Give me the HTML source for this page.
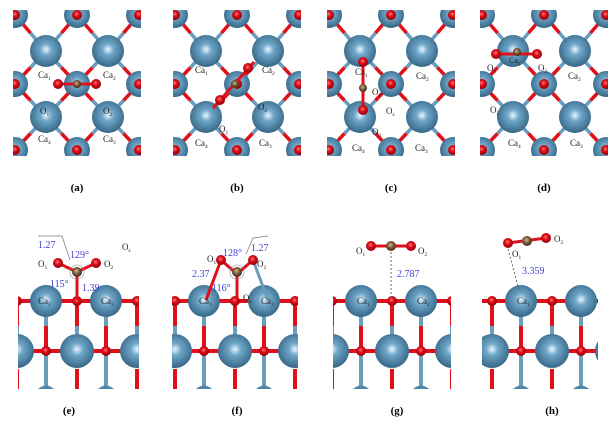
<!DOCTYPE html>
<html><head><meta charset="utf-8"><style>
body{margin:0;background:#fff;width:616px;height:426px;overflow:hidden}
svg text{font-family:"Liberation Serif",serif}
</style></head><body>
<svg id="s" width="616" height="426" xmlns="http://www.w3.org/2000/svg">
<defs>
<radialGradient id="ca" cx="0.5" cy="0.45" r="0.6"><stop offset="0" stop-color="#e8f6ff"/><stop offset="0.3" stop-color="#6fa6c8"/><stop offset="1" stop-color="#2e5f7e"/></radialGradient>
<radialGradient id="ox" cx="0.45" cy="0.4" r="0.6"><stop offset="0" stop-color="#ff8080"/><stop offset="0.4" stop-color="#e0101a"/><stop offset="1" stop-color="#900008"/></radialGradient>
<radialGradient id="cc" cx="0.45" cy="0.4" r="0.6"><stop offset="0" stop-color="#d8b890"/><stop offset="0.5" stop-color="#7a5a3a"/><stop offset="1" stop-color="#3e2a18"/></radialGradient>
</defs>
<g id="g"></g>
</svg>
<script>
(function(){
const g=document.getElementById('g');let h='';
const B='#6a9cbc',R='#e0101a';
function ln(x1,y1,x2,y2,c,w){h+=`<line x1="${x1}" y1="${y1}" x2="${x2}" y2="${y2}" stroke="${c}" stroke-width="${w}"/>`;}
function bond(x1,y1,x2,y2,w){const mx=(x1+x2)/2,my=(y1+y2)/2;ln(x1,y1,mx,my,B,w||3.5);ln(mx,my,x2,y2,R,w||3.5);}
function ci(x,y,r,f){h+=`<circle cx="${x}" cy="${y}" r="${r}" fill="url(#${f})"/>`;}
function tx(x,y,t,s,c,sub){h+=`<text x="${x}" y="${y}" font-size="${s}" fill="${c||'#222'}">${t}${sub?`<tspan font-size="${s*0.6}" dy="2">${sub}</tspan>`:''}</text>`;}
let cid=0;
function topPanel(x0){
 cid++;h+=`<clipPath id="c${cid}"><rect x="${x0}" y="10" width="128" height="146"/></clipPath><g clip-path="url(#c${cid})">`;
 const rows=[15,84,150],cols=[x0+2,x0+64,x0+126],car=[51,117],cac=[x0+33,x0+95];
 for(const cy of car)for(const cx of cac)for(const dy of [-1,1])for(const dx of [-1,1]){
  const ty=cy+dy*(cy==51&&dy<0?36:33), tx2=cx+dx*31; bond(cx,cy,tx2,ty);}
 for(const y of rows)for(const x of cols){ci(x,y,13,'ca');}
 for(const y of rows)for(const x of cols){ci(x,y,5,'ox');}
 for(const cy of car)for(const cx of cac)ci(cx,cy,16,'ca');
 h+='</g>';
}
function side(x0,L,Rt){
 cid++;h+=`<clipPath id="c${cid}"><rect x="${L}" y="280" width="${Rt-L}" height="110"/></clipPath><g clip-path="url(#c${cid})">`;
 const ys=301,yl=351,yb=389;
 for(let k=-2;k<4;k++){const o=x0+58+60*k,c=o-31;
  // horizontal bonds
  ln(c,ys,o,ys,R,4);ln(o,ys,o+29,ys,R,4);
  ln(c,yl,o,yl,R,4);ln(o-12,yl,o,yl,B,4);ln(o,yl,o+12,yl,B,4);ln(o+12,yl,o+29,yl,R,4);
  // verticals: surface Ca -> lower O
  ln(c,ys,c,ys+25,B,4);ln(c,ys+25,c,yl,R,4);
  // surface O -> lower Ca
  ln(o,ys,o,ys+25,R,4);ln(o,ys+25,o,yl,B,4);
  // stubs
  ln(c,yl,c,yb-2,B,4);h+=`<path d="M${c-8} ${yb} Q${c} ${yb-7} ${c+8} ${yb}Z" fill="#4f86a8"/>`;
  ln(o,yl+18,o,yb,R,4);
 }
 for(let k=-2;k<4;k++){const o=x0+58+60*k,c=o-31;ci(o,ys,5,'ox');ci(c,yl,5,'ox');}
 for(let k=-2;k<4;k++){const o=x0+58+60*k,c=o-31;ci(c,ys,16,'ca');ci(o,yl,17,'ca');}
 h+='</g>';
}
topPanel(13);topPanel(173);topPanel(327);topPanel(480);
side(19,18,139);side(177,172,298);side(334,333,451);side(494,482,598);
ci(77,84,13,'ca');ln(58,84,96,84,R,3);ci(58,84,5,'ox');ci(96,84,5,'ox');ci(77,84,4,'cc');
tx(38,78,'Ca',9,'#222','1');tx(103,78,'Ca',9,'#222','2');tx(40,114,'O',9,'#222','1');tx(103,114,'O',9,'#222','2');tx(38,142,'Ca',9,'#222','4');tx(103,142,'Ca',9,'#222','3');
ln(213,108,254,62,R,3);ci(220,100,5,'ox');ci(248,68,5,'ox');ci(235,84,4,'cc');
tx(195,73,'Ca',9,'#222','1');tx(262,73,'Ca',9,'#222','2');tx(258,110,'O',9,'#222','2');tx(219,132,'O',9,'#222','1');tx(195,146,'Ca',9,'#222','4');tx(259,146,'Ca',9,'#222','3');
ln(363,62,363,110,R,3);ci(363,62,5,'ox');ci(363,110,5,'ox');ci(363,88,4,'cc');
tx(355,75,'Ca',9,'#222','1');tx(416,79,'Ca',9,'#222','2');tx(372,95,'O',9,'#222','1');tx(386,114,'O',9,'#222','s');tx(372,135,'O',9,'#222','2');tx(352,151,'Ca',9,'#222','4');tx(415,151,'Ca',9,'#222','3');
ln(496,54,537,54,R,3);ci(496,54,5,'ox');ci(537,54,5,'ox');ci(517,52,4,'cc');
tx(487,71,'O',9,'#222','1');tx(538,71,'O',9,'#222','2');tx(509,63,'Ca',8,'#222','1');tx(568,79,'Ca',9,'#222','2');tx(490,113,'O',9,'#222','2');tx(508,146,'Ca',9,'#222','4');tx(570,146,'Ca',9,'#222','3');
[['(a)',77],['(b)',237],['(c)',391],['(d)',544]].forEach(([t,x])=>h+=`<text x="${x}" y="191" font-size="11" font-weight="bold" text-anchor="middle">${t}</text>`);
[['(e)',69],['(f)',237],['(g)',397],['(h)',552]].forEach(([t,x])=>h+=`<text x="${x}" y="414" font-size="11" font-weight="bold" text-anchor="middle">${t}</text>`);
ln(77,272,77,300,R,3);ln(58,263,77,272,R,3);ln(96,263,77,272,R,3);
ci(58,263,5,'ox');ci(96,263,5,'ox');ci(77,272,5,'cc');
h+=`<circle cx="77" cy="272" r="7" fill="none" stroke="#888" stroke-width="0.6"/><polyline points="38,236 62,236 70,260" fill="none" stroke="#777" stroke-width="0.7"/>`;
tx(38,248,'1.27',10,'#4040d0');tx(70,258,'129°',10,'#4040d0');tx(50,287,'115°',10,'#4040d0');tx(82,291,'1.39',10,'#4040d0');
tx(38,267,'O',9,'#222','1');tx(104,267,'O',9,'#222','2');tx(122,250,'O',9,'#222','s');tx(38,304,'Ca',9,'#222','1');tx(101,304,'Ca',9,'#222','2');
ln(221,260,237,274,R,3);ln(253,260,237,274,R,3);ln(237,274,237,300,R,3);ln(221,260,206,300,R,3);ln(253,260,268,300,B,3);
ci(221,260,5,'ox');ci(253,260,5,'ox');ci(237,272,5,'cc');
h+=`<circle cx="237" cy="272" r="7" fill="none" stroke="#888" stroke-width="0.6"/><polyline points="246,254 253,238 268,236" fill="none" stroke="#777" stroke-width="0.7"/>`;
tx(223,256,'128°',10,'#4040d0');tx(251,251,'1.27',10,'#4040d0');tx(192,277,'2.37',10,'#4040d0');tx(212,291,'116°',10,'#4040d0');
tx(207,262,'O',9,'#222','1');tx(257,267,'O',9,'#222','2');tx(243,301,'O',9,'#222','s');tx(199,304,'Ca',9,'#222','1');tx(261,304,'Ca',9,'#222','2');
ln(371,246,411,246,R,3);ci(371,246,5,'ox');ci(411,246,5,'ox');ci(391,246,5,'cc');
h+=`<line x1="391" y1="252" x2="391" y2="298" stroke="#666" stroke-dasharray="2,2"/>`;
tx(356,254,'O',9,'#222','1');tx(418,254,'O',9,'#222','2');tx(397,277,'2.787',10,'#4040d0');tx(357,304,'Ca',9,'#222','1');tx(417,304,'Ca',9,'#222','2');
ln(508,243,546,238,R,3);ci(508,243,5,'ox');ci(546,238,5,'ox');ci(527,241,5,'cc');
h+=`<line x1="508" y1="249" x2="519" y2="290" stroke="#666" stroke-dasharray="2,2"/>`;
tx(512,257,'O',9,'#222','1');tx(554,242,'O',9,'#222','2');tx(522,274,'3.359',10,'#4040d0');tx(517,304,'Ca',9,'#222','1');
g.innerHTML=h;
})();
</script>
</body></html>
